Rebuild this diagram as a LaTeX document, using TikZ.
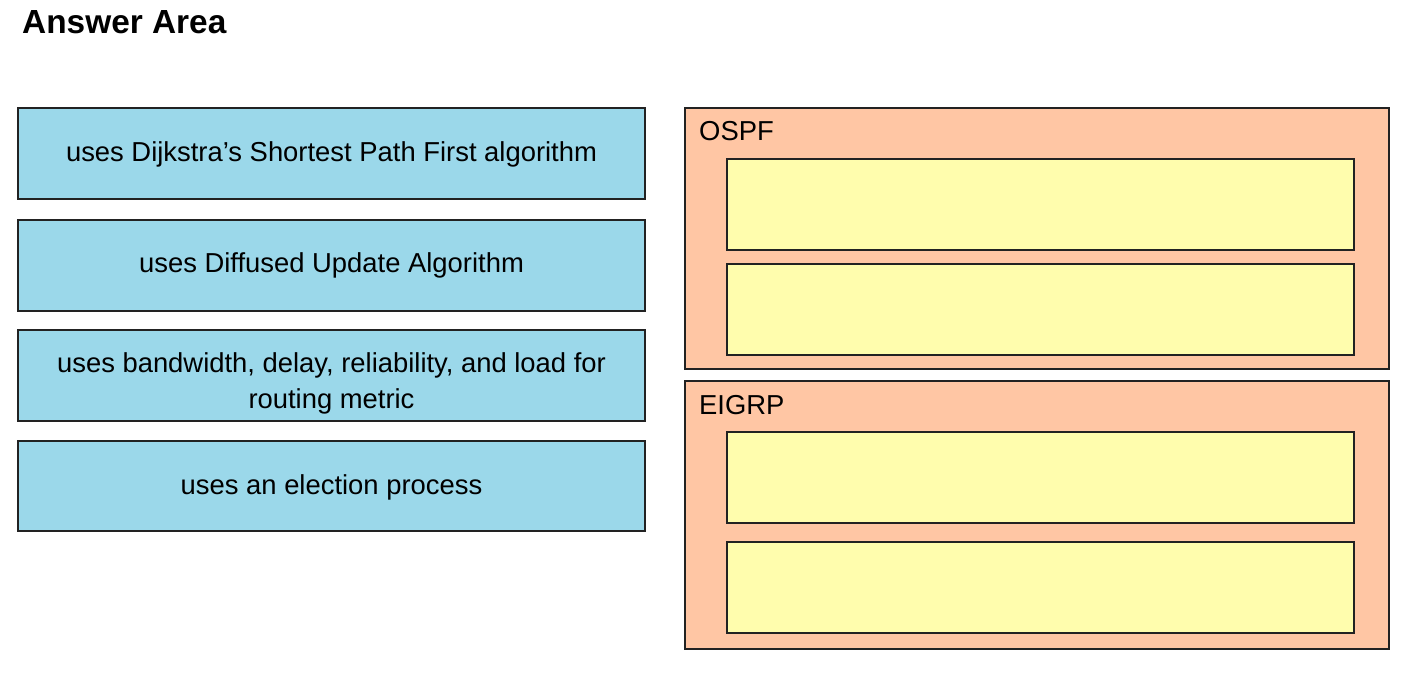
\documentclass[tikz,border=0pt]{standalone}
\usepackage{fontspec}
\setmainfont{Liberation Sans}
\definecolor{cardblue}{HTML}{9BD8EA}
\definecolor{zoneorange}{HTML}{FFC6A4}
\definecolor{slotyellow}{HTML}{FFFDAD}
\definecolor{edge}{HTML}{222222}
\newcommand{\cardtext}[2]{\parbox{620pt}{\vspace*{#1}\centering\baselineskip=35.5pt #2}}
\tikzset{
  card/.style={draw=edge, line width=1.6pt, fill=cardblue, minimum width=627pt, minimum height=91pt, inner sep=0pt, align=center, font=\fontsize{27.4}{35}\selectfont},
  zone/.style={draw=edge, line width=1.6pt, fill=zoneorange, minimum width=704pt, inner sep=0pt},
  slot/.style={draw=edge, line width=1.6pt, fill=slotyellow, minimum width=627pt, minimum height=91pt, inner sep=0pt},
  zonelabel/.style={anchor=west, inner sep=0pt, font=\fontsize{27.4}{32}\selectfont},
}
\begin{document}
\begin{tikzpicture}[x=1pt,y=-1pt]
\useasboundingbox (0,0) rectangle (1409,675);
\node[anchor=base west, inner sep=0pt, font=\fontsize{33.4}{38}\selectfont\bfseries] (title) at (22,33) {Answer Area};
\node[card] (c1) at (331.5,153.5) {\cardtext{2pt}{uses Dijkstra’s Shortest Path First algorithm}};
\node[card] (c2) at (331.5,265.5) {\cardtext{0pt}{uses Diffused Update Algorithm}};
\node[card] (c3) at (331.5,375.5) {\cardtext{16pt}{uses bandwidth, delay, reliability, and load for\\routing metric}};
\node[card, minimum height=90pt] (c4) at (331.5,486) {\cardtext{3pt}{uses an election process}};
\node[zone, minimum height=261pt] (ospf) at (1037,238.5) {};
\node[zonelabel] (ospflabel) at (699,131) {OSPF};
\node[slot] (o1) at (1040.5,204.5) {};
\node[slot] (o2) at (1040.5,309.5) {};
\node[zone, minimum height=268pt] (eigrp) at (1037,515) {};
\node[zonelabel] (eigrplabel) at (699,405) {EIGRP};
\node[slot] (e1) at (1040.5,477.5) {};
\node[slot] (e2) at (1040.5,587.5) {};
\end{tikzpicture}
\end{document}
